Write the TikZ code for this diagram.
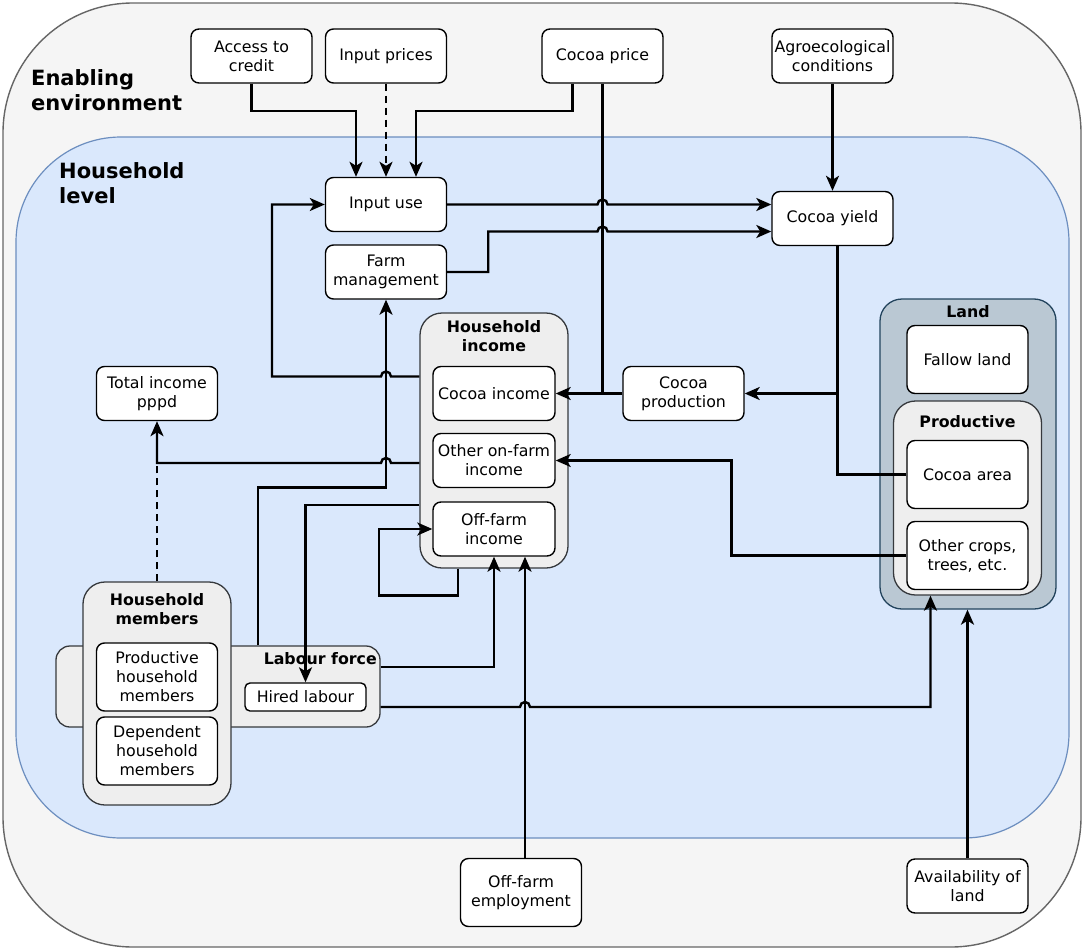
\documentclass[tikz,border=0pt]{standalone}
\usepackage{fontspec}
\setmainfont{DejaVu Sans}
\usepackage{xcolor}
\definecolor{EnvGrey}{HTML}{F5F5F5}
\definecolor{EnvLine}{HTML}{666666}
\definecolor{HhBlue}{HTML}{DAE8FC}
\definecolor{HhLine}{HTML}{6C8EBF}
\definecolor{GroupGrey}{HTML}{EEEEEE}
\definecolor{GroupLine}{HTML}{36393D}
\definecolor{LandBlue}{HTML}{BAC8D3}
\definecolor{LandLine}{HTML}{23445D}
\usepackage{tikz}
\usetikzlibrary{calc,arrows.meta,positioning}
\newcommand\BoxLength{121bp}
\newcommand\BoxHeight{54bp}
\newcommand\TallHeight{68bp}
\newcommand\GroupLength{148bp}
\newcommand\TextFont{\fontsize{15.8bp}{19bp}\selectfont}
\newcommand\TitleFont{\fontsize{15.8bp}{19bp}\selectfont\bfseries}
\newcommand\BigFont{\fontsize{21bp}{25bp}\selectfont\bfseries}
\tikzstyle{box}=[rectangle,rounded corners=8bp,draw=black,fill=white,line width=1.4bp,
                 text centered,align=center,inner sep=0pt,font=\TextFont,
                 minimum height=\BoxHeight,minimum width=\BoxLength]
\tikzstyle{tall}=[box,minimum height=\TallHeight]
\tikzstyle{group}=[rectangle,rounded corners=22bp,draw=GroupLine,fill=GroupGrey,line width=1.3bp]
\tikzstyle{grouplabel}=[font=\TitleFont,align=center,inner sep=0pt]
\tikzstyle{link}=[line width=2.4bp]
\tikzstyle{arr}=[link,-{Stealth[length=15bp,width=13bp,inset=4bp]}]

\begin{document}
\begin{tikzpicture}[x=1bp,y=-1bp]
      \useasboundingbox (0,0) rectangle (1084,950);
      % levels
      \draw[fill=EnvGrey,draw=EnvLine,line width=1.4bp,rounded corners=130bp] (3,3) rectangle (1081,947);
      \draw[fill=HhBlue,draw=HhLine,line width=1.2bp,rounded corners=105bp] (16,137) rectangle (1069,838);
      \node[anchor=north west,font=\BigFont,align=left,inner sep=0pt] (envlabel) at (31,69) {Enabling\\environment};
      \node[anchor=north west,font=\BigFont,align=left,inner sep=0pt] (hhlabel) at (59,162) {Household\\level};
      % inputs and yield
      \node[box] (credit) at (251.5,56) {Access to\\credit};
      \node[box] (iprice) at (386,56) {Input prices};
      \node[box] (cprice) at (602.5,56) {Cocoa price};
      \node[box] (agro) at (832.5,56) {Agroecological\\conditions};
      \node[box] (inuse) at (386,204.5) {Input use};
      \node[box] (farmman) at (386,272) {Farm\\management};
      \node[box] (yield) at (832.5,218.5) {Cocoa yield};
      % household income
      \node[group,minimum width=\GroupLength,minimum height=255bp] (hhinc) at (494,440.5) {};
      \node[grouplabel] (hhinctitle) at (494,336) {Household\\income};
      \node[box,minimum width=122bp] (cocinc) at (494,393.5) {Cocoa income};
      \node[box,minimum width=122bp] (othinc) at (494,460.5) {Other on-farm\\income};
      \node[box,minimum width=122bp] (offinc) at (494,529) {Off-farm\\income};
      \node[box] (cprod) at (683.5,393.5) {Cocoa\\production};
      \node[box] (totinc) at (157,393.5) {Total income\\pppd};
      % land
      \node[group,draw=LandLine,fill=LandBlue,minimum width=176bp,minimum height=310bp] (land) at (968,454) {};
      \node[grouplabel] (landtitle) at (968,312) {Land};
      \node[tall] (fallow) at (967.5,359.5) {Fallow land};
      \node[group,minimum width=\GroupLength,minimum height=194bp] (productive) at (967.5,498) {};
      \node[grouplabel] (prodtitle) at (967.5,422) {Productive};
      \node[tall] (cocarea) at (967.5,474.5) {Cocoa area};
      \node[tall] (othcrops) at (967.5,555.5) {Other crops,\\trees, etc.};
      % labour and members
      \node[group,rounded corners=14bp,minimum width=324bp,minimum height=81bp] (labour) at (218,686.5) {};
      \node[grouplabel,anchor=east] (labtitle) at (377,659) {Labour force};
      \node[box,minimum height=28bp,rounded corners=5bp] (hired) at (305.5,697) {Hired labour};
      \node[group,minimum width=\GroupLength,minimum height=223bp] (hhmem) at (157,693.5) {};
      \node[grouplabel] (hhmemtitle) at (157,609) {Household\\members};
      \node[tall] (prodmem) at (157,677) {Productive\\household\\members};
      \node[tall] (depmem) at (157,751) {Dependent\\household\\members};
      % outside drivers
      \node[tall] (offemp) at (521,892.5) {Off-farm\\employment};
      \node[box] (avland) at (967.5,886) {Availability of\\land};

      % links into input use
      \draw[arr] (credit.south) -- ++(0,27) -| ($(inuse.north)+(-30,0)$);
      \draw[arr,dash pattern=on 7bp off 5bp] (iprice.south) -- (inuse.north);
      \draw[arr] ($(cprice.south)+(-30,0)$) -- ++(0,27) -| ($(inuse.north)+(30,0)$);
      \draw[link] (cprice.south) -- (cprice.south |- cprod.west);
      \draw[arr] (cprod.west) -- (cocinc.east);
      \draw[arr] (agro.south) -- (yield.north);
      % links into cocoa yield
      \draw[arr] (inuse.east) -- ($(cprice.south |- inuse.east)+(-5,0)$) arc[start angle=180,end angle=0,radius=5bp] -- (yield.west |- inuse.east);
      \draw[arr] (farmman.east) -- ++(41,0) |- ($(cprice.south |- yield.west)+(-5,13)$) arc[start angle=180,end angle=0,radius=5bp] -- ($(yield.west)+(0,13)$);
      % production
      \path ($(yield.south)+(5,0)$) coordinate (ysouth);
      \draw[arr] (ysouth) |- (cprod.east);
      \draw[link] (cocarea.west) -| (ysouth |- cprod.east);
      \draw[arr] (othcrops.west) -- ++(-175,0) |- (othinc.east);
      % household income out
      \draw[arr] ($(hhinc.west)+(0,-64)$) -- ($(farmman.south |- hhinc.west)+(5,-64)$) arc[start angle=0,end angle=180,radius=5bp] -- ++(-109,0) |- (inuse.west);
      \draw[arr] ($(hhinc.west)+(0,22.5)$) -- ($(farmman.south |- hhinc.west)+(5,22.5)$) arc[start angle=0,end angle=180,radius=5bp] -| (totinc.south);
      \draw[link,dash pattern=on 7bp off 5bp] (hhmem.north) -- ($(totinc.south)+(0,42)$);
      % labour
      \draw[arr] ($(labour.north)+(40,0)$) -- ++(0,-158) -| (farmman.south);
      \draw[arr] ($(hhinc.west)+(0,64.5)$) -| (hired.north);
      \draw[arr] ($(hhinc.south)+(-36,0)$) -- ++(0,27) -- ++(-79,0) |- (offinc.west);
      \draw[arr] ($(labour.east)+(0,-19.5)$) -| (offinc.south);
      \draw[arr] ($(offemp.north)+(4,0)$) -- ($(offinc.south)+(31,0)$);
      \draw[arr] ($(labour.east)+(0,20.5)$) -- ($(offemp.north |- labour.east)+(-1,20.5)$) arc[start angle=180,end angle=0,radius=5bp] -| ($(productive.south)+(-37,0)$);
      \draw[arr] (avland.north) -- (avland.north |- land.south);
\end{tikzpicture}
\end{document}
